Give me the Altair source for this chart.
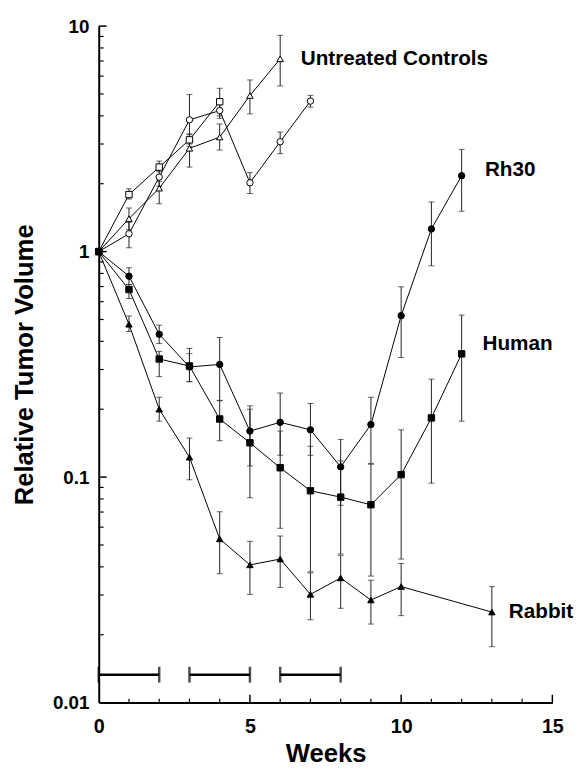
import altair as alt
import pandas as pd

# ---------------- data ----------------
ctrl_sq_weeks = [0, 1, 2, 3, 4]
ctrl_sq = [1.0, 1.79, 2.37, 3.13, 4.62]
ctrl_sq_lo = [1.0, 1.71, 2.26, 2.93, 4.00]
ctrl_sq_hi = [1.0, 1.90, 2.52, 3.33, 5.30]

ctrl_ci_weeks = [0, 1, 2, 3, 4, 5, 6, 7]
ctrl_ci = [1.0, 1.20, 2.14, 3.84, 4.22, 2.02, 3.07, 4.65]
ctrl_ci_lo = [1.0, 1.04, 1.95, 3.00, 3.90, 1.81, 2.72, 4.37]
ctrl_ci_hi = [1.0, 1.35, 2.35, 4.97, 4.60, 2.24, 3.39, 4.93]

ctrl_tr_weeks = [0, 1, 2, 3, 4, 5, 6]
ctrl_tr = [1.0, 1.40, 1.91, 2.87, 3.22, 4.92, 7.16]
ctrl_tr_lo = [1.0, 1.25, 1.63, 2.37, 2.82, 4.08, 5.43]
ctrl_tr_hi = [1.0, 1.56, 2.05, 3.30, 3.68, 5.77, 9.10]

rh30_weeks = [0, 1, 2, 3, 4, 5, 6, 7, 8, 9, 10, 11, 12]
rh30 = [1.0, 0.778, 0.430, 0.308, 0.316, 0.160, 0.175, 0.162, 0.111, 0.171, 0.520, 1.26, 2.17]
rh30_lo = [1.0, 0.715, 0.391, 0.265, 0.218, 0.112, 0.125, 0.125, 0.075, 0.115, 0.339, 0.865, 1.51]
rh30_hi = [1.0, 0.847, 0.472, 0.372, 0.416, 0.207, 0.236, 0.212, 0.147, 0.226, 0.698, 1.66, 2.84]

human_weeks = [0, 1, 2, 3, 4, 5, 6, 7, 8, 9, 10, 11, 12]
human = [1.0, 0.679, 0.334, 0.311, 0.181, 0.142, 0.110, 0.087, 0.0815, 0.0754, 0.1026, 0.183, 0.352]
human_lo = [1.0, 0.620, 0.279, 0.265, 0.145, 0.081, 0.0593, 0.038, 0.0456, 0.0364, 0.0433, 0.094, 0.177]
human_hi = [1.0, 0.715, 0.361, 0.353, 0.219, 0.200, 0.160, 0.137, 0.118, 0.114, 0.162, 0.272, 0.523]

rabbit_weeks = [0, 1, 2, 3, 4, 5, 6, 7, 8, 9, 10, 13]
rabbit = [1.0, 0.476, 0.200, 0.1225, 0.0532, 0.0408, 0.0433, 0.0302, 0.0357, 0.0285, 0.0327, 0.0252]
rabbit_lo = [1.0, 0.442, 0.177, 0.0973, 0.0373, 0.0302, 0.0324, 0.0233, 0.0262, 0.0223, 0.0243, 0.0177]
rabbit_hi = [1.0, 0.518, 0.226, 0.149, 0.0702, 0.0519, 0.0548, 0.0376, 0.045, 0.0349, 0.0414, 0.0327]

# treatment periods (weeks)
treat_start = [0, 3, 6]
treat_end = [2, 5, 8]
treat_level = 0.0133

# series labels (week, value anchor)
label_text = ["Untreated  Controls", "Rh30", "Human", "Rabbit"]
label_week = [6.68, 12.77, 12.69, 13.56]
label_value = [7.11, 2.30, 0.388, 0.0252]

y_ticks_major = [0.01, 0.1, 1, 10]
y_ticks_minor = [m * d for d in [0.01, 0.1, 1] for m in range(2, 10)]
x_ticks_major = [5, 10, 15]
x_ticks_minor = [1, 2, 3, 4, 6, 7, 8, 9, 11, 12, 13, 14]

# ---------------- build tables ----------------
series = [
    ("ctrl_sq", ctrl_sq_weeks, ctrl_sq, ctrl_sq_lo, ctrl_sq_hi, "square", "white"),
    ("ctrl_ci", ctrl_ci_weeks, ctrl_ci, ctrl_ci_lo, ctrl_ci_hi, "circle", "white"),
    ("ctrl_tr", ctrl_tr_weeks, ctrl_tr, ctrl_tr_lo, ctrl_tr_hi, "triangle-up", "white"),
    ("rh30", rh30_weeks, rh30, rh30_lo, rh30_hi, "circle", "black"),
    ("human", human_weeks, human, human_lo, human_hi, "square", "black"),
    ("rabbit", rabbit_weeks, rabbit, rabbit_lo, rabbit_hi, "triangle-up", "black"),
]
rows = []
for order, (name, w, v, lo, hi, shp, fill) in enumerate(series):
    for i in range(len(w)):
        rows.append(dict(series=name, week=w[i], value=v[i], lo=lo[i], hi=hi[i],
                         shape=shp, fill=fill, order=order))
df = pd.DataFrame(rows)
df_err = df[df["week"] > 0]

treat = pd.DataFrame(dict(start=treat_start, end=treat_end, level=[treat_level] * 3))
treat_caps = pd.DataFrame(dict(week=treat_start + treat_end, level=[treat_level] * 6))
labels = pd.DataFrame(dict(text=label_text, week=label_week, value=label_value))

FONT = "Liberation Sans"
W, H = 460, 686

xs = alt.Scale(domain=[0, 15], nice=False, zero=False)
ys = alt.Scale(type="log", domain=[0.01, 10], nice=False)

x_axis = alt.Axis(values=[0, 5, 10, 15], ticks=False, grid=False, domain=True,
                  domainColor="black", domainWidth=2, labelFont=FONT, labelFontSize=20,
                  labelFontWeight="bold", labelColor="black", labelPadding=14,
                  labelFlush=False, title="Weeks", titleFont=FONT, titleFontSize=26,
                  titleFontWeight="bold", titleColor="black", titleY=60,
                  titleBaseline="alphabetic")
y_axis = alt.Axis(values=y_ticks_major, format="~g", ticks=False, grid=False, domain=True,
                  domainColor="black", domainWidth=2, labelFont=FONT, labelFontSize=19,
                  labelFontWeight="bold", labelColor="black", labelPadding=10,
                  labelFlush=False, title="Relative Tumor Volume", titleFont=FONT,
                  titleFontSize=26, titleFontWeight="bold", titleColor="black",
                  titleX=-75, titleY=H / 2, titleAngle=-90, titleAlign="center",
                  titleBaseline="middle")

base = alt.Chart(df)

err = alt.Chart(df_err).mark_rule(color="#222", strokeWidth=1).encode(
    x=alt.X("week:Q", scale=xs, axis=x_axis),
    y=alt.Y("lo:Q", scale=ys, axis=y_axis),
    y2="hi:Q",
)
cap_lo = alt.Chart(df_err).mark_tick(orient="horizontal", color="#222", size=6, thickness=1).encode(
    x=alt.X("week:Q", scale=xs), y=alt.Y("lo:Q", scale=ys))
cap_hi = alt.Chart(df_err).mark_tick(orient="horizontal", color="#222", size=6, thickness=1).encode(
    x=alt.X("week:Q", scale=xs), y=alt.Y("hi:Q", scale=ys))

lines = base.mark_line(color="black", strokeWidth=1).encode(
    x=alt.X("week:Q", scale=xs),
    y=alt.Y("value:Q", scale=ys),
    detail="series:N",
    order="week:Q",
)
points = base.mark_point(filled=True, stroke="black", strokeWidth=1, size=42, opacity=1).encode(
    x=alt.X("week:Q", scale=xs),
    y=alt.Y("value:Q", scale=ys),
    shape=alt.Shape("shape:N", scale=None),
    fill=alt.Fill("fill:N", scale=None),
    order=alt.Order("order:Q"),
)

treat_bar = alt.Chart(treat).mark_rule(color="black", strokeWidth=2.5).encode(
    x=alt.X("start:Q", scale=xs), x2="end:Q", y=alt.Y("level:Q", scale=ys))
treat_cap = alt.Chart(treat_caps).mark_tick(orient="vertical", color="black", size=16, thickness=2.5).encode(
    x=alt.X("week:Q", scale=xs), y=alt.Y("level:Q", scale=ys))

ytick_major = alt.Chart(pd.DataFrame(dict(v=[10, 1, 0.1]))).mark_rule(color="black", strokeWidth=1.5).encode(
    y=alt.Y("v:Q", scale=ys), x=alt.value(0), x2=alt.value(8))
ytick_minor = alt.Chart(pd.DataFrame(dict(v=y_ticks_minor))).mark_rule(color="black", strokeWidth=1.2).encode(
    y=alt.Y("v:Q", scale=ys), x=alt.value(0), x2=alt.value(5))
xtick_major = alt.Chart(pd.DataFrame(dict(w=x_ticks_major))).mark_rule(color="black", strokeWidth=1.5).encode(
    x=alt.X("w:Q", scale=xs), y=alt.value(H), y2=alt.value(H - 8))
xtick_minor = alt.Chart(pd.DataFrame(dict(w=x_ticks_minor))).mark_rule(color="black", strokeWidth=1.2).encode(
    x=alt.X("w:Q", scale=xs), y=alt.value(H), y2=alt.value(H - 4))

texts = alt.Chart(labels).mark_text(align="left", baseline="middle", font=FONT, fontSize=21,
                                    fontWeight="bold", color="black").encode(
    x=alt.X("week:Q", scale=xs), y=alt.Y("value:Q", scale=ys), text="text:N")

chart = alt.layer(
    err, cap_lo, cap_hi, lines, points, treat_bar, treat_cap,
    ytick_major, ytick_minor, xtick_major, xtick_minor, texts
).properties(
    width=W, height=H,
    autosize=alt.AutoSizeParams(type="none"),
    padding={"left": 92, "top": 13, "right": 26, "bottom": 64},
    background="white",
).configure_view(stroke=None)

chart.save("out.html", embed_options={"renderer": "svg", "actions": False})
